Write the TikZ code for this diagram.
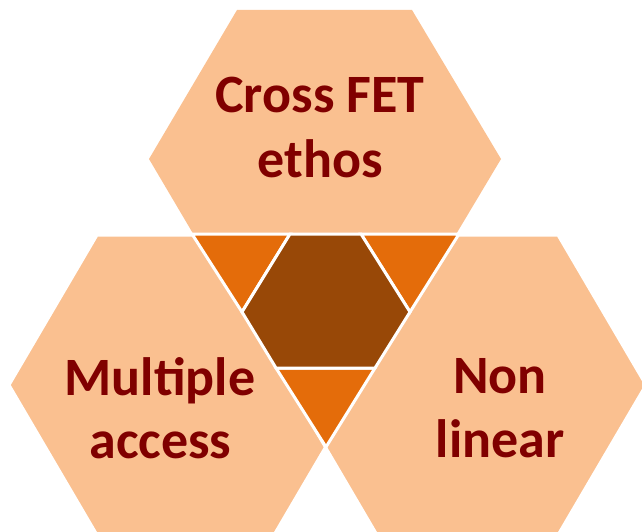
\documentclass[tikz,border=0pt]{standalone}
\usepackage{fontspec}
\setmainfont{Carlito}
\definecolor{hexfill}{HTML}{FAC090}
\definecolor{trifill}{HTML}{E46C0A}
\definecolor{midfill}{HTML}{984807}
\definecolor{txt}{HTML}{800000}
\begin{document}
\begin{tikzpicture}[x=1pt,y=-1pt,
  piece/.style={draw=white,line width=3pt,line join=miter},
  lbl/.style={font=\fontsize{54}{64}\selectfont\bfseries,text=txt,inner sep=0pt,anchor=base}]
\useasboundingbox (0,0) rectangle (642,532);
\clip (0,0) rectangle (642,532);
% top hexagon
\coordinate (T1) at (149,159); \coordinate (T2) at (237,10); \coordinate (T3) at (412,10);
\coordinate (T4) at (501,159); \coordinate (T5) at (412,308); \coordinate (T6) at (237,308);
% bottom-left hexagon
\coordinate (L1) at (9,385); \coordinate (L2) at (97,235); \coordinate (L3) at (274,235);
\coordinate (L4) at (362,385); \coordinate (L5) at (274,535); \coordinate (L6) at (97,535);
% bottom-right hexagon
\coordinate (R1) at (289,385); \coordinate (R2) at (377,235); \coordinate (R3) at (558,235);
\coordinate (R4) at (646,385); \coordinate (R5) at (558,535); \coordinate (R6) at (377,535);
% central triangle pieces
\coordinate (A) at (192,234); \coordinate (B) at (459,234); \coordinate (C) at (326,447);
\coordinate (P1) at (290,234); \coordinate (P2) at (361,234);
\coordinate (P3) at (242,312); \coordinate (P4) at (410,312);
\coordinate (P5) at (276,368); \coordinate (P6) at (375,368);

\fill[hexfill] (T1) -- (T2) -- (T3) -- (T4) -- (T5) -- (T6) -- cycle;
\filldraw[piece,fill=hexfill] (L1) -- (L2) -- (L3) -- (L4) -- (L5) -- (L6) -- cycle;
\filldraw[piece,fill=hexfill] (R1) -- (R2) -- (R3) -- (R4) -- (R5) -- (R6) -- cycle;

\filldraw[piece,fill=trifill] (A) -- (P1) -- (P3) -- cycle;
\filldraw[piece,fill=trifill] (P2) -- (B) -- (P4) -- cycle;
\filldraw[piece,fill=trifill] (P5) -- (P6) -- (C) -- cycle;
\filldraw[piece,fill=midfill] (P1) -- (P2) -- (P4) -- (P6) -- (P5) -- (P3) -- cycle;

\node[lbl] (t1) at (320,113) {Cross FET};
\node[lbl] (t2) at (320,177) {ethos};
\node[lbl] (l1) at (160,395) {Multiple};
\node[lbl] (l2) at (160.5,458) {access};
\node[lbl] (r1) at (500,393) {Non};
\node[lbl] (r2) at (500,457) {linear};
\end{tikzpicture}
\end{document}
